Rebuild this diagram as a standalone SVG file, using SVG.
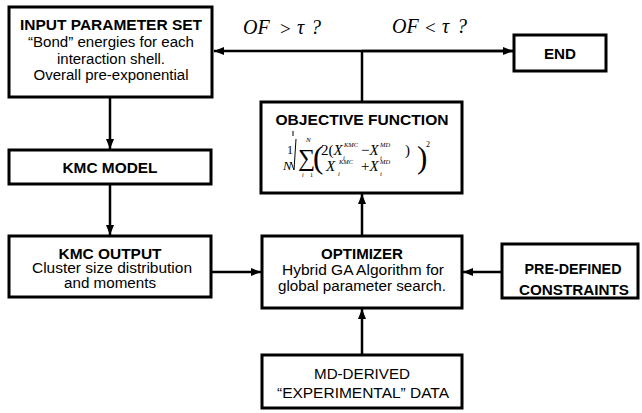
<svg xmlns="http://www.w3.org/2000/svg" width="642" height="413" viewBox="0 0 642 413">
<defs>
<marker id="ah" viewBox="0 0 10 8" refX="10" refY="4" markerWidth="10" markerHeight="8" markerUnits="userSpaceOnUse" orient="auto">
<path d="M0,0 L10,4 L0,8 Z" fill="#000"/>
</marker>
<style>
.box{fill:#fff;stroke:#000;stroke-width:3}
.ln{fill:none;stroke:#000;stroke-width:2.5}
.t{font-family:"Liberation Sans",Arial,sans-serif;font-size:14px;text-anchor:middle;fill:#000}
.b{font-weight:bold;font-size:14.5px}
.m{font-family:"Liberation Serif","Times New Roman",serif;fill:#000}
.i{font-style:italic}
</style>
</defs>
<rect width="642" height="413" fill="#fff"/>
<g id="connectors">
<path class="ln" d="M513,51 L214,51" marker-end="url(#ah)"/>
<path class="ln" d="M362,51 L513,51" marker-end="url(#ah)"/>
<path class="ln" d="M362,102 L362,51"/>
<path class="ln" d="M110,97 L110,149" marker-end="url(#ah)"/>
<path class="ln" d="M110,184 L110,235" marker-end="url(#ah)"/>
<path class="ln" d="M211,272 L261,272" marker-end="url(#ah)"/>
<path class="ln" d="M502,272 L463,272" marker-end="url(#ah)"/>
<path class="ln" d="M362,355 L362,309" marker-end="url(#ah)"/>
<path class="ln" d="M362,236 L362,194" marker-end="url(#ah)"/>
<text class="m i" x="243" y="34" font-size="20">OF</text>
<text class="m" x="280" y="35" font-size="19">&gt;</text>
<text class="m i" x="297" y="34" font-size="20">τ</text>
<text class="m i" x="311" y="34" font-size="20">?</text>
<text class="m i" x="392" y="33" font-size="20">OF</text>
<text class="m" x="425" y="34" font-size="19">&lt;</text>
<text class="m i" x="442" y="33" font-size="20">τ</text>
<text class="m i" x="457" y="33" font-size="20">?</text>
</g>
<g id="input">
<rect class="box" x="9" y="7" width="203" height="90"/>
<text class="t b" x="111" y="30" textLength="182" lengthAdjust="spacingAndGlyphs">INPUT PARAMETER SET</text>
<text class="t" x="111" y="47" textLength="166" lengthAdjust="spacingAndGlyphs">“Bond” energies for each</text>
<text class="t" x="111" y="63.5" textLength="108" lengthAdjust="spacingAndGlyphs">interaction shell.</text>
<text class="t" x="111" y="80" textLength="155" lengthAdjust="spacingAndGlyphs">Overall pre-exponential</text>
</g>
<g id="kmcmodel">
<rect class="box" x="9" y="150" width="202" height="34"/>
<text class="t b" x="110" y="173" textLength="95" lengthAdjust="spacingAndGlyphs">KMC MODEL</text>
</g>
<g id="kmcoutput">
<rect class="box" x="9" y="236" width="202" height="61"/>
<text class="t b" x="110" y="259" textLength="103" lengthAdjust="spacingAndGlyphs">KMC OUTPUT</text>
<text class="t" x="112" y="273" textLength="160" lengthAdjust="spacingAndGlyphs">Cluster size distribution</text>
<text class="t" x="110" y="288" textLength="92" lengthAdjust="spacingAndGlyphs">and moments</text>
</g>
<g id="end">
<rect class="box" x="514" y="35" width="92" height="36"/>
<text class="t b" x="560" y="59" textLength="32" lengthAdjust="spacingAndGlyphs">END</text>
</g>
<g id="objective">
<rect class="box" x="261" y="102" width="201" height="91"/>
<text class="t b" x="362" y="125" textLength="173" lengthAdjust="spacingAndGlyphs">OBJECTIVE FUNCTION</text>
<text class="m" x="287" y="154" font-size="12">1</text>
<text class="m i" x="283" y="170" font-size="13">N</text>
<path d="M293,131 L293,136 M291,162 L294,170 L296,139" fill="none" stroke="#000" stroke-width="1"/>
<text class="m" x="298" y="166" font-size="24">∑</text>
<text class="m i" x="306" y="142" font-size="7">N</text>
<text class="m i" x="302" y="177" font-size="6">i</text>
<text class="m" x="310" y="177" font-size="6">1</text>
<text class="m" x="313" y="168" font-size="31">(</text>
<text class="m" x="321" y="155" font-size="15">2(<tspan class="i">X</tspan></text>
<text class="m i" x="344" y="147" font-size="6.5">KMC</text>
<text class="m i" x="343" y="160" font-size="6.5">i</text>
<text class="m" x="361" y="155" font-size="15">−<tspan class="i">X</tspan></text>
<text class="m i" x="380" y="147" font-size="6.5">MD</text>
<text class="m i" x="380" y="160" font-size="6.5">i</text>
<text class="m" x="405" y="155" font-size="15">)</text>
<text class="m i" x="326" y="171" font-size="15">X</text>
<text class="m i" x="339" y="164" font-size="6.5">KMC</text>
<text class="m i" x="338" y="176" font-size="6.5">i</text>
<text class="m" x="361" y="171" font-size="15">+<tspan class="i">X</tspan></text>
<text class="m i" x="380" y="164" font-size="6.5">MD</text>
<text class="m i" x="380" y="176" font-size="6.5">i</text>
<text class="m" x="417" y="168" font-size="31">)</text>
<text class="m" x="426" y="147" font-size="8">2</text>
</g>
<g id="optimizer">
<rect class="box" x="262" y="236" width="200" height="72"/>
<text class="t b" x="362" y="259" textLength="82" lengthAdjust="spacingAndGlyphs">OPTIMIZER</text>
<text class="t" x="363" y="275" textLength="162" lengthAdjust="spacingAndGlyphs">Hybrid GA Algorithm for</text>
<text class="t" x="362" y="291" textLength="168" lengthAdjust="spacingAndGlyphs">global parameter search.</text>
</g>
<g id="constraints">
<rect class="box" x="502" y="244" width="136" height="54"/>
<text class="t b" x="573" y="274" textLength="97" lengthAdjust="spacingAndGlyphs">PRE-DEFINED</text>
<text class="t b" x="574" y="295" textLength="110" lengthAdjust="spacingAndGlyphs">CONSTRAINTS</text>
</g>
<g id="mdderived">
<rect class="box" x="262" y="355" width="200" height="53"/>
<text class="t" x="362" y="379" textLength="96" lengthAdjust="spacingAndGlyphs">MD-DERIVED</text>
<text class="t" x="363" y="398" textLength="172" lengthAdjust="spacingAndGlyphs">“EXPERIMENTAL” DATA</text>
</g>
</svg>
